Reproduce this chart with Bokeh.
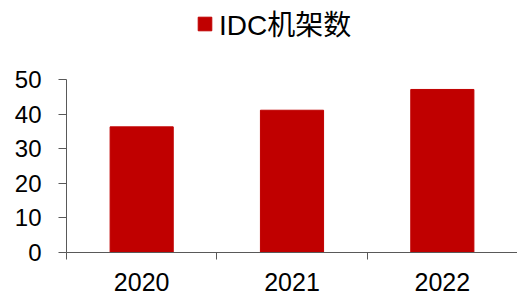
from bokeh.plotting import figure
from bokeh.models import (Range1d, FixedTicker, Legend, LegendItem, ColumnDataSource,
                          LinearAxis)
from bokeh.embed import file_html
from bokeh.resources import INLINE

years = ["2020", "2021", "2022"]
racks = [36.3, 41.1, 47.1]
series_name = "IDC机架数"
y_ticks = [0, 10, 20, 30, 40, 50]
y_max = 50

centers = [i + 0.5 for i in range(len(years))]
bounds = [float(i) for i in range(len(years) + 1)]

source = ColumnDataSource(dict(x=centers, top=racks, year=years))

# frame reaches to the top of the canvas so the legend can sit inside it;
# the y axis itself is limited to 0..50 with axis bounds
p = figure(width=517, height=298, output_backend="svg", toolbar_location=None,
           x_range=Range1d(0, 3.0), y_range=Range1d(0, 72.8),
           x_axis_type=None, y_axis_type=None,
           min_border_left=66, min_border_right=0, min_border_top=0, min_border_bottom=46)
p.outline_line_color = None
p.xgrid.visible = False
p.ygrid.visible = False
p.background_fill_color = "white"
p.border_fill_color = "white"

r = p.vbar(x="x", top="top", width=0.42, bottom=0, source=source,
           fill_color="#C00000", line_color="#C00000")

axis_color = "#595959"
font = "Liberation Sans, Arial, sans-serif"

xaxis = LinearAxis(ticker=FixedTicker(ticks=centers, minor_ticks=bounds),
                   major_label_overrides={c: y for c, y in zip(centers, years)})
xaxis.axis_line_color = axis_color
xaxis.major_tick_out = 0
xaxis.major_tick_in = 0
xaxis.minor_tick_out = 7
xaxis.minor_tick_in = 0
xaxis.minor_tick_line_color = axis_color
xaxis.major_label_standoff = 13
xaxis.major_label_text_font = font
xaxis.major_label_text_font_size = "25px"
xaxis.major_label_text_color = "black"
p.add_layout(xaxis, "below")

yaxis = LinearAxis(ticker=FixedTicker(ticks=y_ticks), bounds=(0, y_max))
yaxis.axis_line_color = axis_color
yaxis.major_tick_line_color = axis_color
yaxis.major_tick_out = 8
yaxis.major_tick_in = 0
yaxis.minor_tick_line_color = None
yaxis.major_label_standoff = 17
yaxis.major_label_text_font = font
yaxis.major_label_text_font_size = "24px"
yaxis.major_label_text_color = "black"
p.add_layout(yaxis, "left")

legend = Legend(items=[LegendItem(label=series_name, renderers=[r])],
                location=(130, 209), orientation="horizontal")
legend.border_line_color = None
legend.background_fill_alpha = 0
legend.padding = 0
legend.margin = 0
legend.glyph_width = 17
legend.glyph_height = 17
legend.label_standoff = 6
legend.label_text_font = "Liberation Sans, Noto Sans CJK SC, sans-serif"
legend.label_text_font_size = "28px"
legend.label_text_color = "black"
p.add_layout(legend, "center")

open("out.html", "w").write(file_html(p, INLINE))
